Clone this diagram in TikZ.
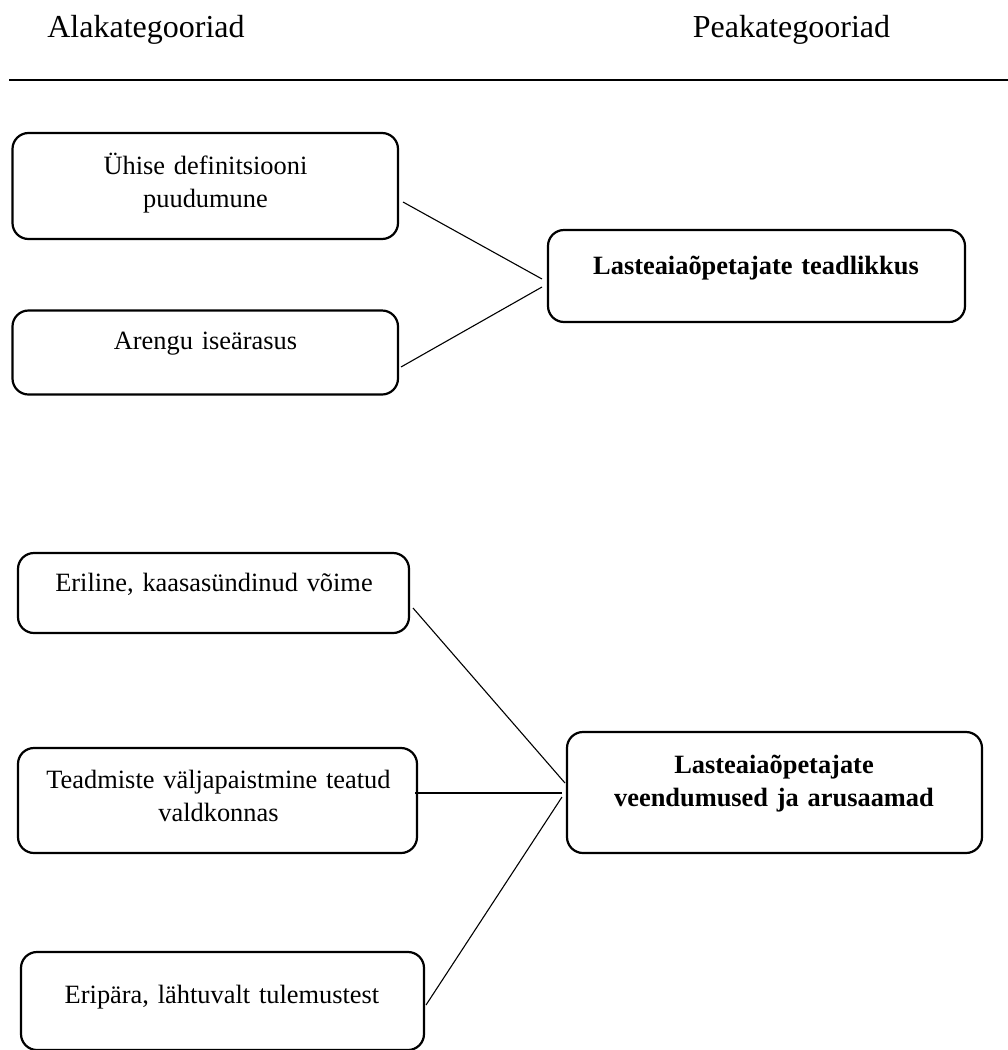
\documentclass[tikz,border=0pt]{standalone}
\usepackage{fontspec}
\setmainfont{Liberation Serif}
\begin{document}
\begin{tikzpicture}[x=1pt,y=-1pt,
  box/.style={draw, line width=2.2pt, rounded corners=16pt, inner sep=0pt, outer sep=0pt},
  lbl/.style={anchor=base, inner sep=0pt, align=center, text width=400pt, font=\fontsize{26.4}{33.5}\selectfont},
  hdr/.style={anchor=base, inner sep=0pt, font=\fontsize{32}{38}\selectfont},
  conn/.style={line width=1.1pt},
  rule/.style={line width=2pt}]
\useasboundingbox (0,0) rectangle (1008,1050);

% header
\node[hdr] (h1) at (146,37) {Alakategooriad};
\node[hdr] (h2) at (791.5,37) {Peakategooriad};
\coordinate (hl) at (9,80);
\coordinate (hr) at (1008,80);
\draw[rule] (hl) -- (hr);

% boxes
\node[box, minimum width=385.5pt, minimum height=106pt] (b1) at (205.25,186) {};
\node[box, minimum width=385.5pt, minimum height=84pt] (b2) at (205.25,352.5) {};
\node[box, minimum width=417pt, minimum height=92pt] (r1) at (756.5,276) {};
\node[box, minimum width=391pt, minimum height=80pt] (b3) at (213.5,593) {};
\node[box, minimum width=399pt, minimum height=105pt] (b4) at (217.5,800.5) {};
\node[box, minimum width=403pt, minimum height=98pt] (b5) at (222.5,1001) {};
\node[box, minimum width=415pt, minimum height=121pt] (r2) at (774.5,792.5) {};

% texts
\node[lbl] (t1) at (205.5,174) {Ühise definitsiooni\\puudumune};
\node[lbl] (t2) at (205.5,349) {Arengu iseärasus};
\node[lbl] (tr1) at (756,274) {\textbf{Lasteaiaõpetajate teadlikkus}};
\node[lbl] (t3) at (214,591) {Eriline, kaasasündinud võime};
\node[lbl] (t4) at (218.5,788) {Teadmiste väljapaistmine teatud\\valdkonnas};
\node[lbl] (t5) at (222,1003) {Eripära, lähtuvalt tulemustest};
\node[lbl] (tr2) at (774,773) {\textbf{Lasteaiaõpetajate}\\\textbf{veendumused ja arusaamad}};

% connectors
\draw[conn] ([shift={(5,16)}]b1.east) -- ([shift={(-6,3)}]r1.west);
\draw[conn] ([shift={(3,14.5)}]b2.east) -- ([shift={(-6,11)}]r1.west);
\draw[conn] ([shift={(4,15)}]b3.east) -- ([shift={(-2,-9.5)}]r2.west);
\draw[conn] ([shift={(-2,-7.5)}]b4.east) -- ([shift={(-5,0.5)}]r2.west);
\draw[conn] ([shift={(2,4)}]b5.east) -- ([shift={(-5,4.5)}]r2.west);
\end{tikzpicture}
\end{document}
